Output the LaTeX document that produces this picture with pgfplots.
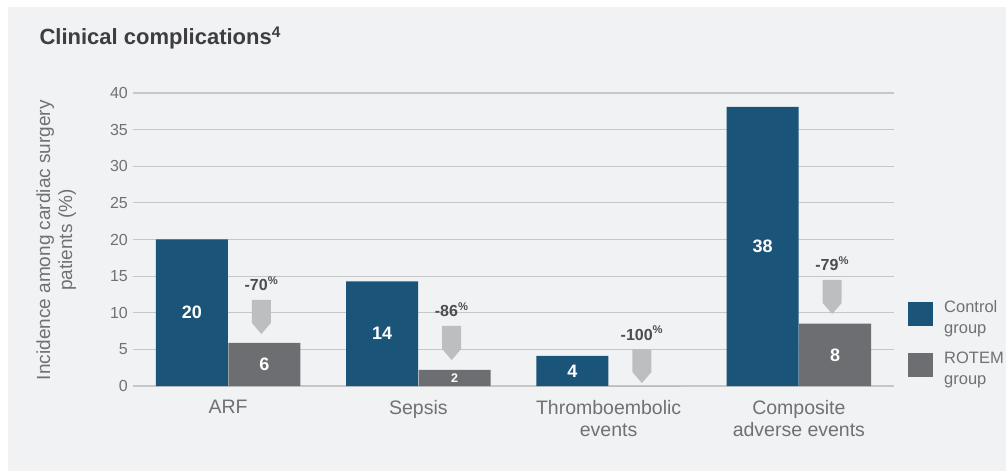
\documentclass[border=0pt]{standalone}
\usepackage{pgfplots}
\pgfplotsset{compat=1.18}
\usepackage{fontspec}
\setmainfont{Liberation Sans}
\definecolor{ctrl}{HTML}{1B5479}
\definecolor{rotem}{HTML}{6D6E71}
\definecolor{arrowc}{HTML}{BDBEC0}
\definecolor{panel}{HTML}{F1F2F4}
\definecolor{txt}{HTML}{707174}
\definecolor{titlec}{HTML}{3E3E40}
\definecolor{pctc}{HTML}{4D4D4F}
\definecolor{gridc}{HTML}{C6C7C9}
\pgfdeclareplotmark{darrow}{%
  \pgfpathmoveto{\pgfqpoint{-9.5pt}{34pt}}%
  \pgfpathlineto{\pgfqpoint{9.5pt}{34pt}}%
  \pgfpathlineto{\pgfqpoint{9.5pt}{11pt}}%
  \pgfpathlineto{\pgfqpoint{0pt}{0pt}}%
  \pgfpathlineto{\pgfqpoint{-9.5pt}{11pt}}%
  \pgfpathclose
  \pgfusepathqfill}
\pgfplotsset{sqlegend/.style={legend image code/.code={\fill[##1,draw=none] (0pt,-8pt) rectangle (25pt,16pt);}}}
\begin{document}
\begin{tikzpicture}
\useasboundingbox (-133pt,-85pt) rectangle (875pt,386pt);
\fill[white] (-133pt,-85pt) rectangle (875pt,386pt);
\fill[panel] (-125pt,-85pt) rectangle (873pt,379pt);
\begin{axis}[
  at={(0pt,0pt)}, anchor=south west,
  scale only axis, width=761pt, height=293pt,
  xmin=-0.5, xmax=3.5, ymin=0, ymax=40,
  xtick={0,1,2,3},
  xticklabels={ARF, Sepsis, {Thromboembolic\\events}, {Composite\\adverse events}},
  ytick={0,5,...,40},
  ymajorgrids, grid style={gridc, line width=1.2pt},
  axis line style={draw=none},
  major tick length=0pt,
  /pgf/number format/assume math mode=true,
  yticklabel style={inner sep=0pt, xshift=-5pt, text=txt, font=\fontsize{16}{19}\selectfont},
  xticklabel style={inner sep=0pt, yshift=-14pt, align=center, text=txt, font=\fontsize{19.5}{22.5}\selectfont},
  ylabel={Incidence among cardiac surgery\\patients (\%)},
  ylabel style={at={(axis description cs:-0.101,0.498)}, anchor=center, align=center, text=txt, font=\fontsize{19}{22}\selectfont},
  legend style={at={(axis description cs:1.0184,0.300)}, anchor=north west, draw=none, fill=none,
    font=\fontsize{16.5}{21}\selectfont, text=txt, cells={align=left, anchor=west},
    row sep=13pt, column sep=9pt, inner sep=0pt},
  clip=false,
]
\addplot[ybar, bar width=72pt, bar shift=0pt, fill=ctrl, draw=none, sqlegend]
  coordinates {(-0.19,20) (0.81,14.3) (1.81,4.1) (2.81,38.1)};
\addlegendentry{Control\\group}
\addplot[ybar, bar width=72pt, bar shift=0pt, fill=rotem, draw=none, sqlegend]
  coordinates {(0.19,5.9) (1.19,2.2) (2.19,0) (3.19,8.5)};
\addlegendentry{ROTEM\\group}
% value labels inside bars
\addplot[draw=none, mark=none, forget plot, nodes near coords, point meta=explicit symbolic,
  nodes near coords style={anchor=center, text=white, font=\fontsize{18}{21}\selectfont\bfseries}]
  coordinates {(-0.19,10)[20] (0.81,7.15)[14] (1.81,2.05)[4] (2.81,19.05)[38]
               (0.19,2.95)[6] (1.19,1.1)[{\fontsize{12.5}{14}\selectfont 2}] (3.19,4.25)[8]};
% reduction arrows
\addplot[only marks, mark=darrow, color=arrowc, forget plot, nodes near coords, point meta=explicit symbolic,
  nodes near coords style={anchor=center, yshift=50pt, text=pctc, font=\fontsize{16}{18}\selectfont\bfseries}]
  coordinates {(0.175,7.1)[{-70\textsuperscript{\%}}] (1.175,3.55)[{-86\textsuperscript{\%}}]
               (2.175,0.4)[{-100\textsuperscript{\%}}] (3.175,9.83)[{-79\textsuperscript{\%}}]};
\end{axis}
\node[anchor=base west, text=titlec, font=\fontsize{22}{26}\selectfont\bfseries] at (-97pt,341pt)
  {Clinical complications\textsuperscript{4}};
\end{tikzpicture}
\end{document}
